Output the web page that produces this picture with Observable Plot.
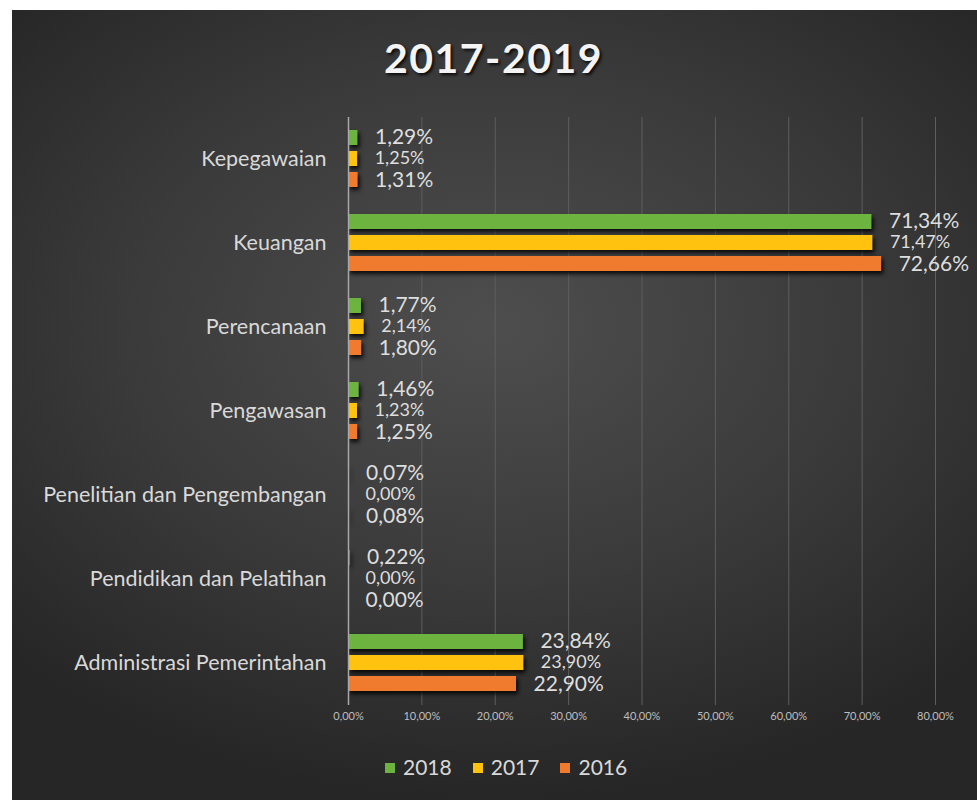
<!DOCTYPE html>
<html>
<head>
<meta charset="utf-8">
<script src="https://cdn.jsdelivr.net/npm/d3@7"></script>
<script src="https://cdn.jsdelivr.net/npm/@observablehq/plot@0.6"></script>
<style>
  html, body { margin: 0; padding: 0; background: #ffffff; width: 977px; height: 800px; overflow: hidden; }
  #panel { position: absolute; left: 12px; top: 10px; width: 965px; height: 790px;
    background: radial-gradient(ellipse 70% 60% at 50% 40%, #4e4e4e 0%, #3a3a3a 55%, #262626 100%); }
  #title { position: absolute; left: 0; top: 33px; width: 977px; text-align: center;
    font-family: Lato, "Open Sans", sans-serif; font-weight: 700; font-size: 41px; color: #f4f4f4;
    text-shadow: 2px 2px 3px rgba(0,0,0,0.8); letter-spacing: 1.5px; padding-left: 10px; box-sizing: border-box; }
  #plot { position: absolute; left: 0; top: 100px; }
  #plot svg { background: transparent; font-family: Lato, "Open Sans", sans-serif; }
  #plot g[aria-label^="fy-axis"] text { font-size: 21.5px; fill: #d9d9d9; }
  #plot g[aria-label^="x-axis"] text { font-size: 11px; fill: #bfbfbf; }
  #plot g[aria-label="bar"] rect { filter: drop-shadow(2px 3px 2px rgba(0,0,0,0.85)); }
  #legend { position: absolute; left: 385px; top: 754px; display: flex;
    gap: 21px; font-family: Lato, "Open Sans", sans-serif; font-size: 21px; color: #d9d9d9; }
  #legend span.item { display: flex; align-items: center; gap: 8px; }
  #legend span.sw { display: inline-block; width: 10px; height: 10px; margin-top: 2px; }
</style>
</head>
<body>
<div id="panel"></div>
<div id="title">2017-2019</div>
<div id="plot"></div>
<div id="legend"></div>
<script>
const categories = ["Kepegawaian","Keuangan","Perencanaan","Pengawasan","Penelitian dan Pengembangan","Pendidikan dan Pelatihan","Administrasi Pemerintahan"];
const years = ["2018","2017","2016"];
const v2018 = [1.29, 71.34, 1.77, 1.46, 0.07, 0.22, 23.84];
const v2017 = [1.25, 71.47, 2.14, 1.23, 0.00, 0.00, 23.90];
const v2016 = [1.31, 72.66, 1.80, 1.25, 0.08, 0.00, 22.90];
const xTicks = [0, 10, 20, 30, 40, 50, 60, 70, 80];
const colors = ["#6cb33f", "#ffc20e", "#f07b2f"];

const series = {"2018": v2018, "2017": v2017, "2016": v2016};
const data = [];
for (const y of years) categories.forEach((c, i) => data.push({category: c, year: y, value: series[y][i]}));

const fmt = v => v.toFixed(2).replace(".", ",") + "%";

const chart = Plot.plot({
  width: 977,
  height: 635,
  marginLeft: 348,
  marginRight: 42,
  marginTop: 16,
  marginBottom: 30,
  style: {background: "transparent", color: "#d9d9d9"},
  x: {domain: [0, 80], ticks: xTicks, tickFormat: fmt, tickSize: 0, tickPadding: 7, label: null},
  y: {domain: years, axis: null, paddingInner: 0.27, paddingOuter: 0.55},
  fy: {domain: categories, padding: 0, axis: "left", label: null, tickSize: 0, tickPadding: 22},
  color: {domain: years, range: colors},
  marks: [
    Plot.gridX(xTicks.filter(d => d > 0), {stroke: "#5e5e5e", strokeOpacity: 1, strokeWidth: 1}),
    Plot.barX(data, {fy: "category", y: "year", x: "value", fill: "year"}),
    Plot.ruleX([0], {stroke: "#a8a8a8", strokeWidth: 1.5}),
    Plot.text(data.filter(d => d.year === "2018"), {fy: "category", y: "year", x: "value", text: d => fmt(d.value), textAnchor: "start", dx: 17, dy: -1, fontSize: 21, fill: "#dedede"}),
    Plot.text(data.filter(d => d.year === "2017"), {fy: "category", y: "year", x: "value", text: d => fmt(d.value), textAnchor: "start", dx: 17, dy: -1, fontSize: 18, fill: "#dedede"}),
    Plot.text(data.filter(d => d.year === "2016"), {fy: "category", y: "year", x: "value", text: d => fmt(d.value), textAnchor: "start", dx: 17, dy: 0, fontSize: 21, fill: "#dedede"})
  ]
});
document.getElementById("plot").appendChild(chart);

const legend = document.getElementById("legend");
years.forEach((y, i) => {
  const item = document.createElement("span");
  item.className = "item";
  const sw = document.createElement("span");
  sw.className = "sw";
  sw.style.background = colors[i];
  item.appendChild(sw);
  item.appendChild(document.createTextNode(y));
  legend.appendChild(item);
});
</script>
</body>
</html>
